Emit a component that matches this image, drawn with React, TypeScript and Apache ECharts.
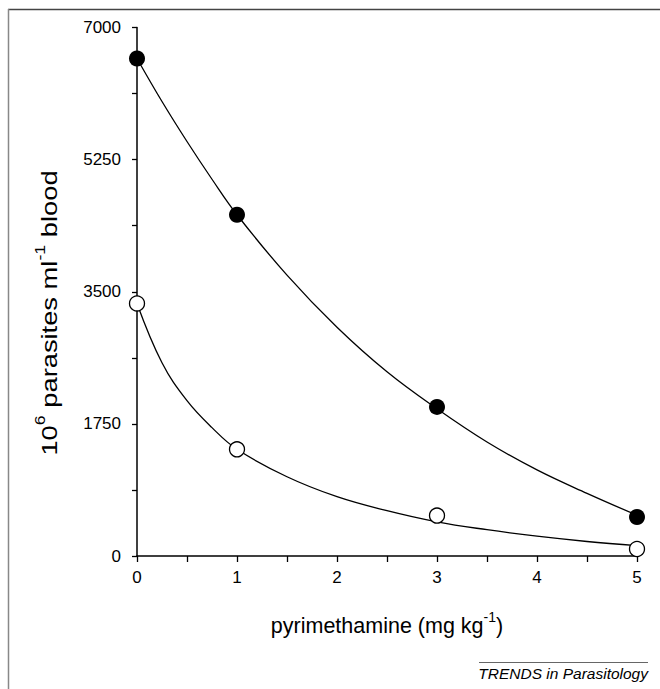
import React, { useEffect, useRef } from "react";
import * as echarts from "echarts";

// Measured data points (dose in mg/kg, parasites x10^6 per ml blood)
const doses = [0, 1, 3, 5];
const filledValues = [6590, 4520, 1975, 517];
const openValues = [3345, 1413, 535, 93];

// Fitted curves
const fitFilledX = [0, 0.25, 0.5, 0.75, 1, 1.5, 2, 2.5, 3, 3.5, 4, 4.5, 5];
const fitFilledY = [6590, 6020, 5490, 4990, 4520, 3720, 3030, 2440, 1950, 1510, 1140, 830, 540];
const fitOpenX = [0, 0.25, 0.5, 0.75, 1, 1.5, 2, 2.5, 3, 3.5, 4, 4.5, 5];
const fitOpenY = [3345, 2560, 2057, 1700, 1413, 1050, 786, 600, 452, 348, 262, 192, 137];

const xTickLabels = ["0", "1", "2", "3", "4", "5"];
const yTickLabels = ["0", "1750", "3500", "5250", "7000"];

const FONT = "Liberation Sans, Arial, Helvetica, sans-serif";

export default function App() {
  const ref = useRef<HTMLDivElement>(null);
  useEffect(() => {
    if (!ref.current) return;
    const chart = echarts.init(ref.current, undefined, { renderer: "svg" });
    const pairs = (xs: number[], ys: number[]) => xs.map((x, i) => [x, ys[i]]);
    chart.setOption({
      animation: false,
      backgroundColor: "#ffffff",
      grid: { left: 137, top: 27.5, width: 500, height: 528.5, containLabel: false },
      xAxis: {
        type: "value",
        min: 0,
        max: 5,
        interval: 0.5,
        splitLine: { show: false },
        axisLine: { show: true, onZero: false, lineStyle: { color: "#000", width: 1.5 } },
        axisTick: { show: true, inside: false, length: 6, lineStyle: { color: "#000", width: 1.3 } },
        axisLabel: {
          margin: 13,
          fontSize: 17,
          fontFamily: FONT,
          color: "#000",
          formatter: (v: number) => (xTickLabels.includes(String(v)) ? String(v) : ""),
        },
        name: "{n|pyrimethamine (mg kg}{s|-1}{n|)}",
        nameLocation: "middle",
        nameGap: 54,
        nameTextStyle: {
          rich: {
            n: { fontSize: 21.5, fontFamily: FONT, color: "#000", lineHeight: 27, verticalAlign: "bottom" },
            s: { fontSize: 14, fontFamily: FONT, color: "#000", lineHeight: 14, verticalAlign: "top" },
          },
        },
      },
      yAxis: {
        type: "value",
        min: 0,
        max: 7000,
        interval: 875,
        splitLine: { show: false },
        axisLine: { show: true, onZero: false, lineStyle: { color: "#000", width: 1.5 } },
        axisTick: { show: true, inside: false, length: 5, lineStyle: { color: "#000", width: 1.3 } },
        axisLabel: {
          margin: 16,
          fontSize: 17,
          fontFamily: FONT,
          color: "#000",
          formatter: (v: number) => (yTickLabels.includes(String(v)) ? String(v) : ""),
        },
      },
      graphic: [
        { type: "line", shape: { x1: 8, y1: 9.5, x2: 660, y2: 9.5 }, style: { stroke: "#444", lineWidth: 1.5 }, silent: true },
        { type: "line", shape: { x1: 8.5, y1: 9, x2: 8.5, y2: 689 }, style: { stroke: "#888", lineWidth: 1.5 }, silent: true },
        { type: "line", shape: { x1: 479, y1: 662.5, x2: 648, y2: 662.5 }, style: { stroke: "#666", lineWidth: 1 }, silent: true },
        {
          type: "text",
          x: 648,
          y: 673,
          style: {
            text: "TRENDS in Parasitology",
            fontSize: 15.5,
            fontStyle: "italic",
            fontFamily: FONT,
            fill: "#000",
            align: "right",
            verticalAlign: "middle",
          },
          silent: true,
        },
        {
          type: "text",
          x: 47,
          y: 313,
          rotation: Math.PI / 2,
          scaleX: 1.27,
          style: {
            text: "{n|10}{s|6}{n| parasites ml}{s|-1}{n| blood}",
            align: "center",
            verticalAlign: "middle",
            rich: {
              n: { fontSize: 21.5, fontFamily: FONT, fill: "#000", lineHeight: 27, verticalAlign: "bottom" },
              s: { fontSize: 14, fontFamily: FONT, fill: "#000", lineHeight: 14, verticalAlign: "top" },
            },
          },
          silent: true,
        },
      ],
      series: [
        {
          type: "line",
          name: "fit filled",
          data: pairs(fitFilledX, fitFilledY),
          smooth: 0.4,
          showSymbol: false,
          symbol: "none",
          lineStyle: { color: "#000", width: 1.3 },
          z: 2,
        },
        {
          type: "line",
          name: "fit open",
          data: pairs(fitOpenX, fitOpenY),
          smooth: 0.4,
          showSymbol: false,
          symbol: "none",
          lineStyle: { color: "#000", width: 1.3 },
          z: 2,
        },
        {
          type: "scatter",
          name: "filled",
          data: pairs(doses, filledValues),
          symbol: "circle",
          symbolSize: 16,
          itemStyle: { color: "#000", borderColor: "#000", borderWidth: 0, opacity: 1 },
          z: 3,
        },
        {
          type: "scatter",
          name: "open",
          data: pairs(doses, openValues),
          symbol: "circle",
          symbolSize: 15,
          itemStyle: { color: "#fff", borderColor: "#000", borderWidth: 1.3, opacity: 1 },
          z: 3,
        },
      ],
    });
    return () => chart.dispose();
  }, []);
  return (
    <div
      ref={ref}
      style={{ position: "fixed", left: 0, top: 0, width: 660, height: 689, background: "#fff" }}
    />
  );
}
